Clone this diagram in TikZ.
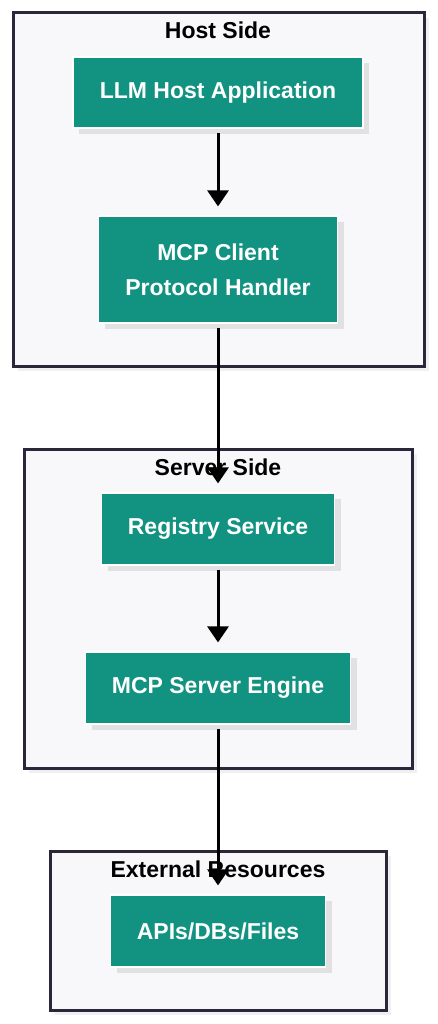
\documentclass[tikz,border=0pt]{standalone}
\usepackage{fontspec}
\setmainfont{Liberation Sans}
\usetikzlibrary{arrows.meta,shadows}
\definecolor{boxteal}{RGB}{18,146,129}
\definecolor{groupline}{RGB}{40,40,58}
\definecolor{groupfill}{RGB}{248,248,250}
\begin{document}
\begin{tikzpicture}[x=1pt,y=-1pt,
    group/.style={draw=groupline,fill=groupfill,line width=3pt,
      drop shadow={shadow xshift=5pt,shadow yshift=-5pt,fill=black,opacity=0.06}},
    grouptitle/.style={font=\bfseries\fontsize{23}{27}\selectfont,text=black,inner sep=0pt},
    proc/.style={fill=boxteal,draw=white,line width=1.2pt,text=white,align=center,
      font=\bfseries\fontsize{23}{35}\selectfont,
      drop shadow={shadow xshift=6pt,shadow yshift=-6pt,fill=black,opacity=0.09}},
    flow/.style={line width=3pt,-{Triangle[length=16pt,width=21pt]},
      shorten <=4pt,shorten >=9pt}]
  \useasboundingbox (0,0) rectangle (438,1024);
  % groups
  \node[group,minimum width=411,minimum height=353] (host) at (218.5,189.5) {};
  \node[group,minimum width=388,minimum height=319] (server) at (218,608.5) {};
  \node[group,minimum width=336,minimum height=159] (ext) at (218,930.5) {};
  \node[grouptitle] (hosttitle) at (218,30) {Host Side};
  \node[grouptitle] (servertitle) at (218,467) {Server Side};
  \node[grouptitle] (exttitle) at (218,869) {External Resources};
  % steps
  \node[proc,minimum width=290,minimum height=71] (llm) at (218,92.5) {LLM Host Application};
  \node[proc,minimum width=239,minimum height=107] (client) at (218,269.5) {MCP Client\\Protocol Handler};
  \node[proc,minimum width=233,minimum height=72] (registry) at (218,529) {Registry Service};
  \node[proc,minimum width=265,minimum height=72] (engine) at (218,688) {MCP Server Engine};
  \node[proc,minimum width=215,minimum height=72] (apis) at (218,931) {APIs/DBs/Files};
  \begin{scope}[flow]
    \draw (llm.south) to (client.north);
    \draw (client.south) to (registry.north);
    \draw (registry.south) to (engine.north);
    \draw (engine.south) to (apis.north);
  \end{scope}
\end{tikzpicture}
\end{document}
